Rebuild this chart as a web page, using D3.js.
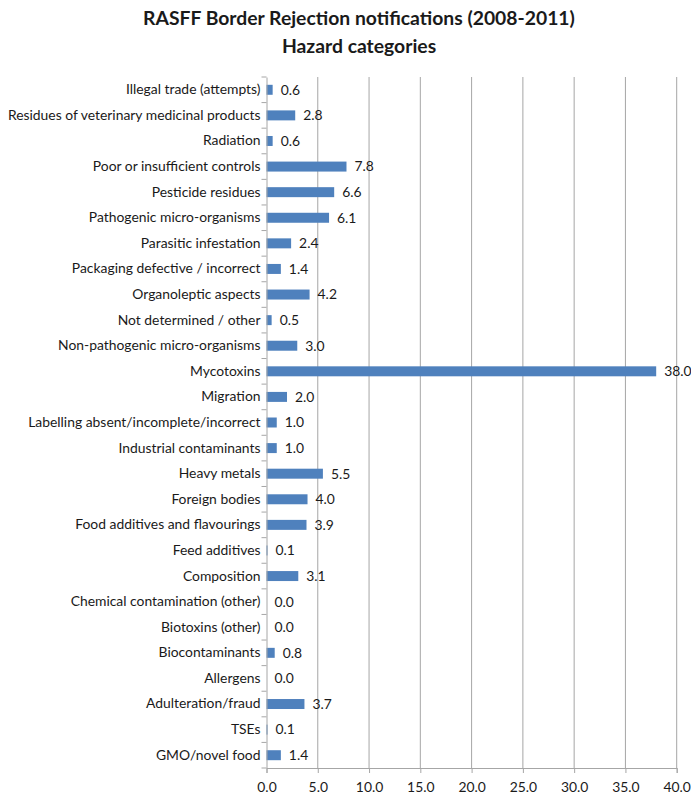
<!DOCTYPE html>
<html><head><meta charset="utf-8">
<script src="https://cdn.jsdelivr.net/npm/d3@7"></script>
<style>body{margin:0;background:#fff}svg{display:block}</style>
</head><body>
<svg id="c" width="691" height="795"></svg>
<script>
const categories = ["Illegal trade (attempts)","Residues of veterinary medicinal products","Radiation","Poor or insufficient controls","Pesticide residues","Pathogenic micro-organisms","Parasitic infestation","Packaging defective / incorrect","Organoleptic aspects","Not determined / other","Non-pathogenic micro-organisms","Mycotoxins","Migration","Labelling absent/incomplete/incorrect","Industrial contaminants","Heavy metals","Foreign bodies","Food additives and flavourings","Feed additives","Composition","Chemical contamination (other)","Biotoxins (other)","Biocontaminants","Allergens","Adulteration/fraud","TSEs","GMO/novel food"];
const values = [0.6,2.8,0.6,7.8,6.6,6.1,2.4,1.4,4.2,0.5,3.0,38.0,2.0,1.0,1.0,5.5,4.0,3.9,0.1,3.1,0.0,0.0,0.8,0.0,3.7,0.1,1.4];
const xTicks = [0,5,10,15,20,25,30,35,40];
const titleLines = ["RASFF Border Rejection notifications (2008-2011)","Hazard categories"];

(function(){
const svg = d3.select("#c");
const font = "Lato, 'Open Sans', sans-serif";
const pL = 266.5, pR = 676.7, pT = 77, pB = 768;
const x = d3.scaleLinear().domain([0,40]).range([pL,pR]);
const y = d3.scaleBand().domain(categories).range([pT,pB]).paddingInner(0.61).paddingOuter(0.305);

function fit(sel, width){
  const w = sel.node().getComputedTextLength();
  const fs = parseFloat(sel.attr("font-size"));
  sel.attr("font-size", fs*width/w);
}

const t1 = svg.append("text").attr("x",359).attr("y",25).attr("text-anchor","middle")
  .attr("font-family",font).attr("font-weight","bold").attr("font-size",20).attr("fill","#1a1a1a").text(titleLines[0]);
fit(t1,432);
svg.append("text").attr("x",359).attr("y",53).attr("text-anchor","middle")
  .attr("font-family",font).attr("font-weight","bold").attr("font-size",+t1.attr("font-size")).attr("fill","#1a1a1a").text(titleLines[1]);

svg.append("g").selectAll("line").data(xTicks.slice(1)).join("line")
  .attr("x1",d=>x(d)).attr("x2",d=>x(d)).attr("y1",pT).attr("y2",pB)
  .attr("stroke","#a6a6a6").attr("stroke-width",1);

svg.append("g").selectAll("rect").data(categories).join("rect")
  .attr("x",x(0)).attr("y",d=>y(d)).attr("height",y.bandwidth())
  .attr("width",(d,i)=>x(values[i])-x(0))
  .attr("fill","#4f81bd");

const xAxis = svg.append("g").attr("transform",`translate(0,${pB})`)
  .call(d3.axisBottom(x).tickValues(xTicks).tickFormat(d3.format(".1f")).tickSize(5).tickPadding(9));
xAxis.select(".domain").attr("stroke","#a6a6a6");
xAxis.selectAll(".tick line").attr("stroke","#a6a6a6");
xAxis.selectAll("text").attr("font-family",font).attr("font-size",12).attr("fill","#1a1a1a");

const yAxis = svg.append("g").attr("transform",`translate(${pL},0)`)
  .call(d3.axisLeft(y).tickSize(0).tickPadding(6));
yAxis.select(".domain").attr("stroke","#a6a6a6");
yAxis.selectAll("text").attr("font-family",font).attr("font-size",12).attr("fill","#1a1a1a");
const bounds = d3.range(categories.length+1).map(i=>pT + i*(pB-pT)/categories.length);
svg.append("g").selectAll("line").data(bounds).join("line")
  .attr("x1",pL-5).attr("x2",pL).attr("y1",d=>d).attr("y2",d=>d).attr("stroke","#a6a6a6");
const longest = yAxis.selectAll("text").filter(d=>d===categories[1]);
const lw = longest.node().getComputedTextLength();
const yfs = 12*253/lw;
yAxis.selectAll("text").attr("font-size",yfs);
xAxis.selectAll("text").attr("font-size",yfs);

svg.append("g").selectAll("text").data(categories).join("text")
  .attr("x",(d,i)=>x(values[i])+8).attr("y",d=>y(d)+y.bandwidth()/2)
  .attr("dy","0.35em").attr("font-family",font).attr("font-size",yfs).attr("fill","#1a1a1a")
  .text((d,i)=>d3.format(".1f")(values[i]));
})();
</script>
</body></html>
